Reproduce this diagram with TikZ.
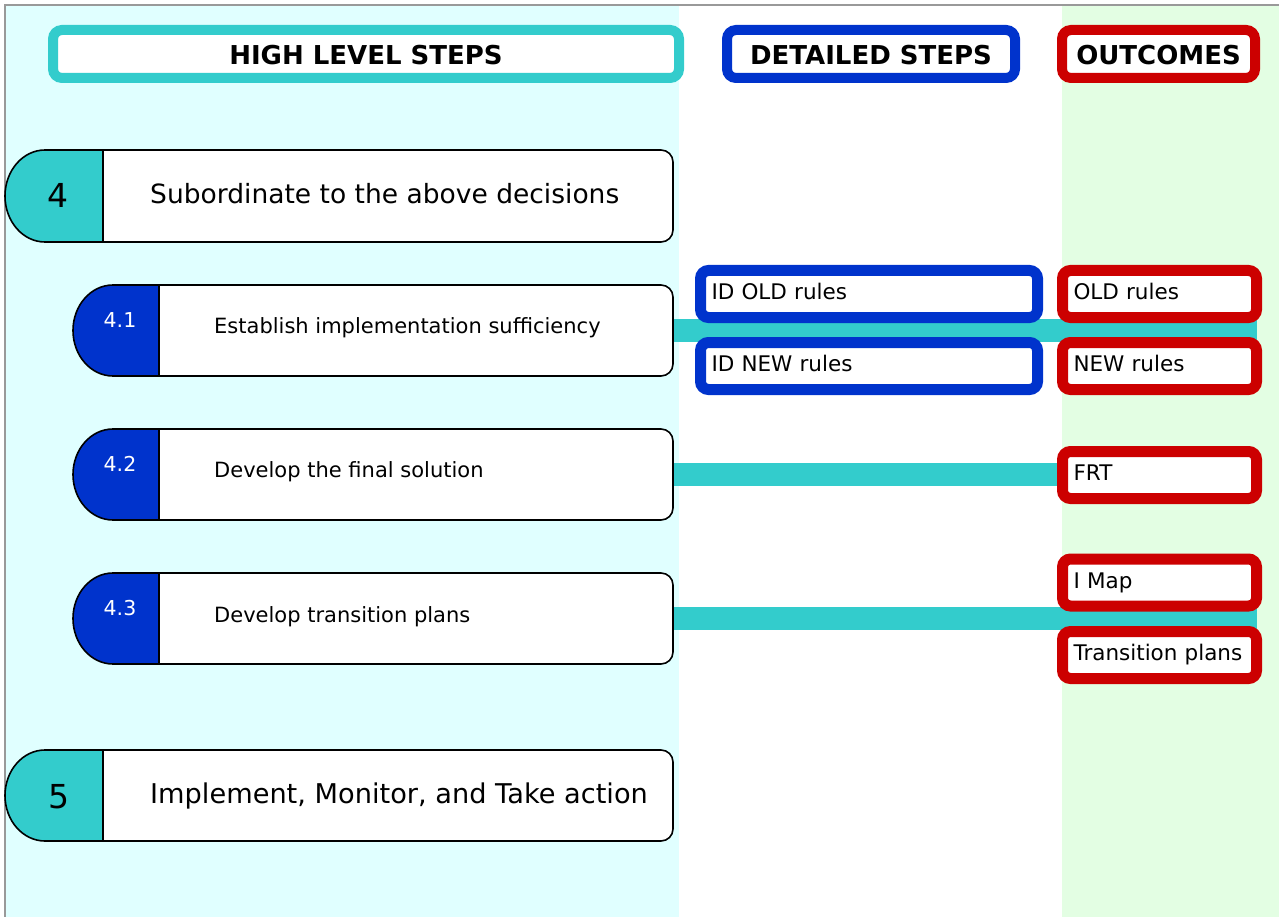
\documentclass[tikz,border=0pt]{standalone}
\usepackage{fontspec}
\setmainfont{DejaVu Sans}
\usetikzlibrary{calc}

\definecolor{stepteal}{HTML}{33CCCC}
\definecolor{stepblue}{HTML}{0033CC}
\definecolor{outred}{HTML}{CC0000}
\definecolor{lanecyan}{HTML}{E0FFFF}
\definecolor{lanegreen}{HTML}{E3FEE3}
\definecolor{framegray}{HTML}{999999}

\pgfdeclarelayer{lanes}
\pgfdeclarelayer{bars}
\pgfsetlayers{lanes,bars,main}

% Step shape: #1 left x, #2 divider x, #3 right x, #4 top y, #5 bottom y,
% #6 half height, #7 colour of the numbered cap
\newcommand\mkstep[7]{%
  \fill[#7] (#2,#4) -- (#1+40,#4)
    arc[start angle=90,end angle=270,x radius=40pt,y radius=#6pt] -- (#2,#5) -- cycle;
  \fill[white] (#2,#4) -- (#3-12,#4) arc[start angle=90,end angle=0,radius=12pt]
    -- (#3,#5-12) arc[start angle=0,end angle=-90,radius=12pt] -- (#2,#5) -- cycle;
  \draw[stepline] (#1+40,#4) -- (#3-12,#4) arc[start angle=90,end angle=0,radius=12pt]
    -- (#3,#5-12) arc[start angle=0,end angle=-90,radius=12pt]
    -- (#1+40,#5) arc[start angle=270,end angle=90,x radius=40pt,y radius=#6pt] -- cycle;
  \draw[stepline] (#2,#4) -- (#2,#5);
}

\tikzset{
  stepline/.style={black, line width=1.6pt, line join=round},
  stepbody/.style={inner sep=0pt, outer sep=0pt, minimum height=91pt},
  bignum/.style={font=\fontsize{33}{38}\selectfont, inner sep=0pt},
  subnum/.style={font=\fontsize{20.5}{24}\selectfont, text=white, inner sep=0pt},
  bigtext/.style={font=\fontsize{26.5}{30}\selectfont, inner sep=0pt},
  subtext/.style={font=\fontsize{21}{25}\selectfont, inner sep=0pt},
  bar/.style={stepteal, line width=23pt},
  hdrbox/.style={line width=10pt, rounded corners=9pt, fill=white,
    minimum height=48pt, inner sep=0pt, text height=22pt, text depth=0pt,
    font=\fontsize{26}{30}\selectfont\bfseries},
  itembox/.style={line width=11pt, rounded corners=8pt, fill=white,
    minimum height=47pt, inner xsep=11pt, inner ysep=0pt, outer sep=0pt,
    align=left, text height=11pt, text depth=0pt,
    font=\fontsize{21.5}{25}\selectfont},
  detbox/.style={itembox, draw=stepblue, text width=315pt},
  outbox/.style={itembox, draw=outred, text width=172pt},
}

\begin{document}
\begin{tikzpicture}[x=1pt,y=-1pt]
\useasboundingbox (0,0) rectangle (1279,917);

% lanes and frame
\begin{pgfonlayer}{lanes}
  \fill[lanecyan] (5,5) rectangle (679,917);
  \fill[lanegreen] (1062,5) rectangle (1279,917);
  \draw[framegray, line width=1.5pt] (1279,5) -- (5,5) -- (5,917);
\end{pgfonlayer}

% column headers
\node[hdrbox, draw=stepteal, minimum width=626pt] (hhigh) at (366,54) {HIGH LEVEL STEPS};
\node[hdrbox, draw=stepblue, minimum width=288pt] (hdet) at (871,54) {DETAILED STEPS};
\node[hdrbox, draw=outred, minimum width=193pt] (hout) at (1158.5,54) {OUTCOMES};

% anchors for the step bodies
\node[stepbody, minimum width=570pt, minimum height=92pt, anchor=north west] (s4) at (103,150) {};
\node[stepbody, minimum width=514pt, anchor=north west] (s41) at (159,285) {};
\node[stepbody, minimum width=514pt, anchor=north west] (s42) at (159,429) {};
\node[stepbody, minimum width=514pt, anchor=north west] (s43) at (159,573) {};
\node[stepbody, minimum width=570pt, anchor=north west] (s5) at (103,750) {};

% detailed steps and outcomes
\node[detbox] (d1) at (869,294) {ID OLD rules};
\node[detbox] (d2) at (869,366) {ID NEW rules};
\node[outbox] (o1) at (1159.5,294) {OLD rules};
\node[outbox] (o2) at (1159.5,366) {NEW rules};
\node[outbox] (o3) at (1159.5,475) {FRT};
\node[outbox] (o4) at (1159.5,582.5) {I Map};
\node[outbox] (o5) at (1159.5,655) {Transition plans};

% connector bars, running behind the boxes
\begin{pgfonlayer}{bars}
  \draw[bar] (s41.east) -- (s41.east -| o1.east);
  \draw[bar] (s42.east) -- (s42.east -| o3.center);
  \draw[bar] (s43.east) -- (s43.east -| o5.east);
\end{pgfonlayer}

% step shapes
\mkstep{5}{103}{673}{150}{242}{46}{stepteal}
\mkstep{73}{159}{673}{285}{376}{45.5}{stepblue}
\mkstep{73}{159}{673}{429}{520}{45.5}{stepblue}
\mkstep{73}{159}{673}{573}{664}{45.5}{stepblue}
\mkstep{5}{103}{673}{750}{841}{45.5}{stepteal}

% step numbers and labels
\node[bignum, anchor=base] (n4) at (58,208) {4};
\node[bigtext, anchor=base west] (t4) at (150,204) {Subordinate to the above decisions};
\node[subnum, anchor=base] (n41) at (120,327) {4.1};
\node[subtext, anchor=base west] (t41) at (214,333) {Establish implementation sufficiency};
\node[subnum, anchor=base] (n42) at (120,471) {4.2};
\node[subtext, anchor=base west] (t42) at (214,477) {Develop the final solution};
\node[subnum, anchor=base] (n43) at (120,615) {4.3};
\node[subtext, anchor=base west] (t43) at (214,622) {Develop transition plans};
\node[bignum, anchor=base] (n5) at (59,808) {5};
\node[bigtext, font=\fontsize{27.2}{31}\selectfont, anchor=base west] (t5) at (150,803) {Implement, Monitor, and Take action};
\end{tikzpicture}
\end{document}
